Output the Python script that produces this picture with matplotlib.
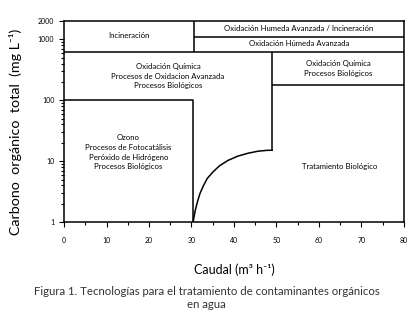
import matplotlib
matplotlib.use("Agg")
import matplotlib.pyplot as plt
from matplotlib.ticker import FixedLocator, FixedFormatter, LogLocator, NullFormatter

plt.rcParams['font.family'] = ['Lato', 'DejaVu Sans']

# boundaries of the technology regions (caudal in m3/h, COT in mg/L)
x_max = 80
y_min, y_max = 1, 2000
x_incin = 30.6          # right edge of "Incineracion"
y_incin_split = 1100    # split of wet oxidation / incineration band
y_upper = 630           # bottom of the upper band
x_ozono = 30.3          # right edge of the ozone box
y_ozono = 100           # top of the ozone box
x_bio = 49              # left edge of the right-hand column
y_bio = 180             # split between chemical and biological (right)

# curve separating the ozone zone from biological treatment
curve_x = [30.4, 30.6, 30.9, 31.4, 32.0, 32.8, 33.7, 35.1, 36.6, 38.6,
           40.9, 43.3, 45.7, 48.0, 49.0]
curve_y = [1.0, 1.22, 1.57, 2.15, 2.95, 3.94, 5.2, 6.7, 8.4, 10.3,
           12.1, 13.5, 14.6, 15.1, 15.1]

x_ticks = [0, 10, 20, 30, 40, 50, 60, 70, 80]
y_ticks = [1, 10, 100, 1000, 2000]
y_tick_labels = ['1', '10', '100', '1000', '2000']

fig = plt.figure(figsize=(4.13, 3.33), dpi=100)
ax = fig.add_axes([0.155, 0.333, 0.823, 0.604])
ax.set_yscale('log')
ax.set_xlim(0, x_max)
ax.set_ylim(y_min, y_max)

lw = 1.1
kw = dict(color='black', lw=lw, solid_capstyle='butt')
# upper band
ax.plot([x_incin, x_incin], [y_upper, y_max], **kw)
ax.plot([x_incin, x_max], [y_incin_split, y_incin_split], **kw)
ax.plot([0, x_max], [y_upper, y_upper], **kw)
# ozone box
ax.plot([0, x_ozono, x_ozono], [y_ozono, y_ozono, y_min], **kw)
# right column
ax.plot([x_bio, x_bio], [curve_y[-1], y_upper], **kw)
ax.plot([x_bio, x_max], [y_bio, y_bio], **kw)
ax.plot(curve_x, curve_y, color='black', lw=lw, solid_joinstyle='round')

fs = 5.6
ax.text(15.3, 1150, 'Incineración', ha='center', va='center', fontsize=fs)
ax.text(55.3, 1500, 'Oxidación Humeda Avanzada / Incineración',
        ha='center', va='center', fontsize=fs)
ax.text(55.3, 840, 'Oxidación Húmeda Avanzada', ha='center', va='center', fontsize=fs)
ax.text(24.5, 250, 'Oxidación Química\nProcesos de Oxidacion Avanzada\nProcesos Biológicos',
        ha='center', va='center', fontsize=fs, linespacing=1.45)
ax.text(64.5, 335, 'Oxidación Química\nProcesos Biológicos',
        ha='center', va='center', fontsize=fs, linespacing=1.45)
ax.text(15.2, 14, 'Ozono\nProcesos de Fotocatálisis\nPeróxido de Hidrógeno\nProcesos Biológicos',
        ha='center', va='center', fontsize=fs, linespacing=1.45)
ax.text(65, 8.2, 'Tratamiento Biológico', ha='center', va='center', fontsize=fs)

ax.xaxis.set_major_locator(FixedLocator(x_ticks))
ax.xaxis.set_minor_locator(FixedLocator([5, 15, 25, 35, 45, 55, 65, 75]))
ax.yaxis.set_major_locator(FixedLocator(y_ticks))
ax.yaxis.set_major_formatter(FixedFormatter(y_tick_labels))
ax.yaxis.set_minor_locator(LogLocator(base=10, subs=range(2, 10)))
ax.yaxis.set_minor_formatter(NullFormatter())
ax.tick_params(which='both', direction='out', labelsize=5, colors='black', width=0.8)
ax.tick_params(which='major', length=3.5)
ax.tick_params(which='minor', length=2)
ax.tick_params(axis='x', pad=7)
for s in ax.spines.values():
    s.set_linewidth(1.1)

ax.set_xlabel('Caudal (m³ h⁻¹)', fontsize=9, labelpad=14)
ax.set_ylabel('Carbono  orgánico  total  (mg L⁻¹)', fontsize=10.3)
ax.yaxis.set_label_coords(-0.124, 0.45)

fig.text(0.5, 0.105, 'Figura 1. Tecnologías para el tratamiento de contaminantes orgánicos\nen agua',
         ha='center', va='center', fontsize=8.2, color='#333333', linespacing=1.25)

fig.savefig('out.png', dpi=100)
